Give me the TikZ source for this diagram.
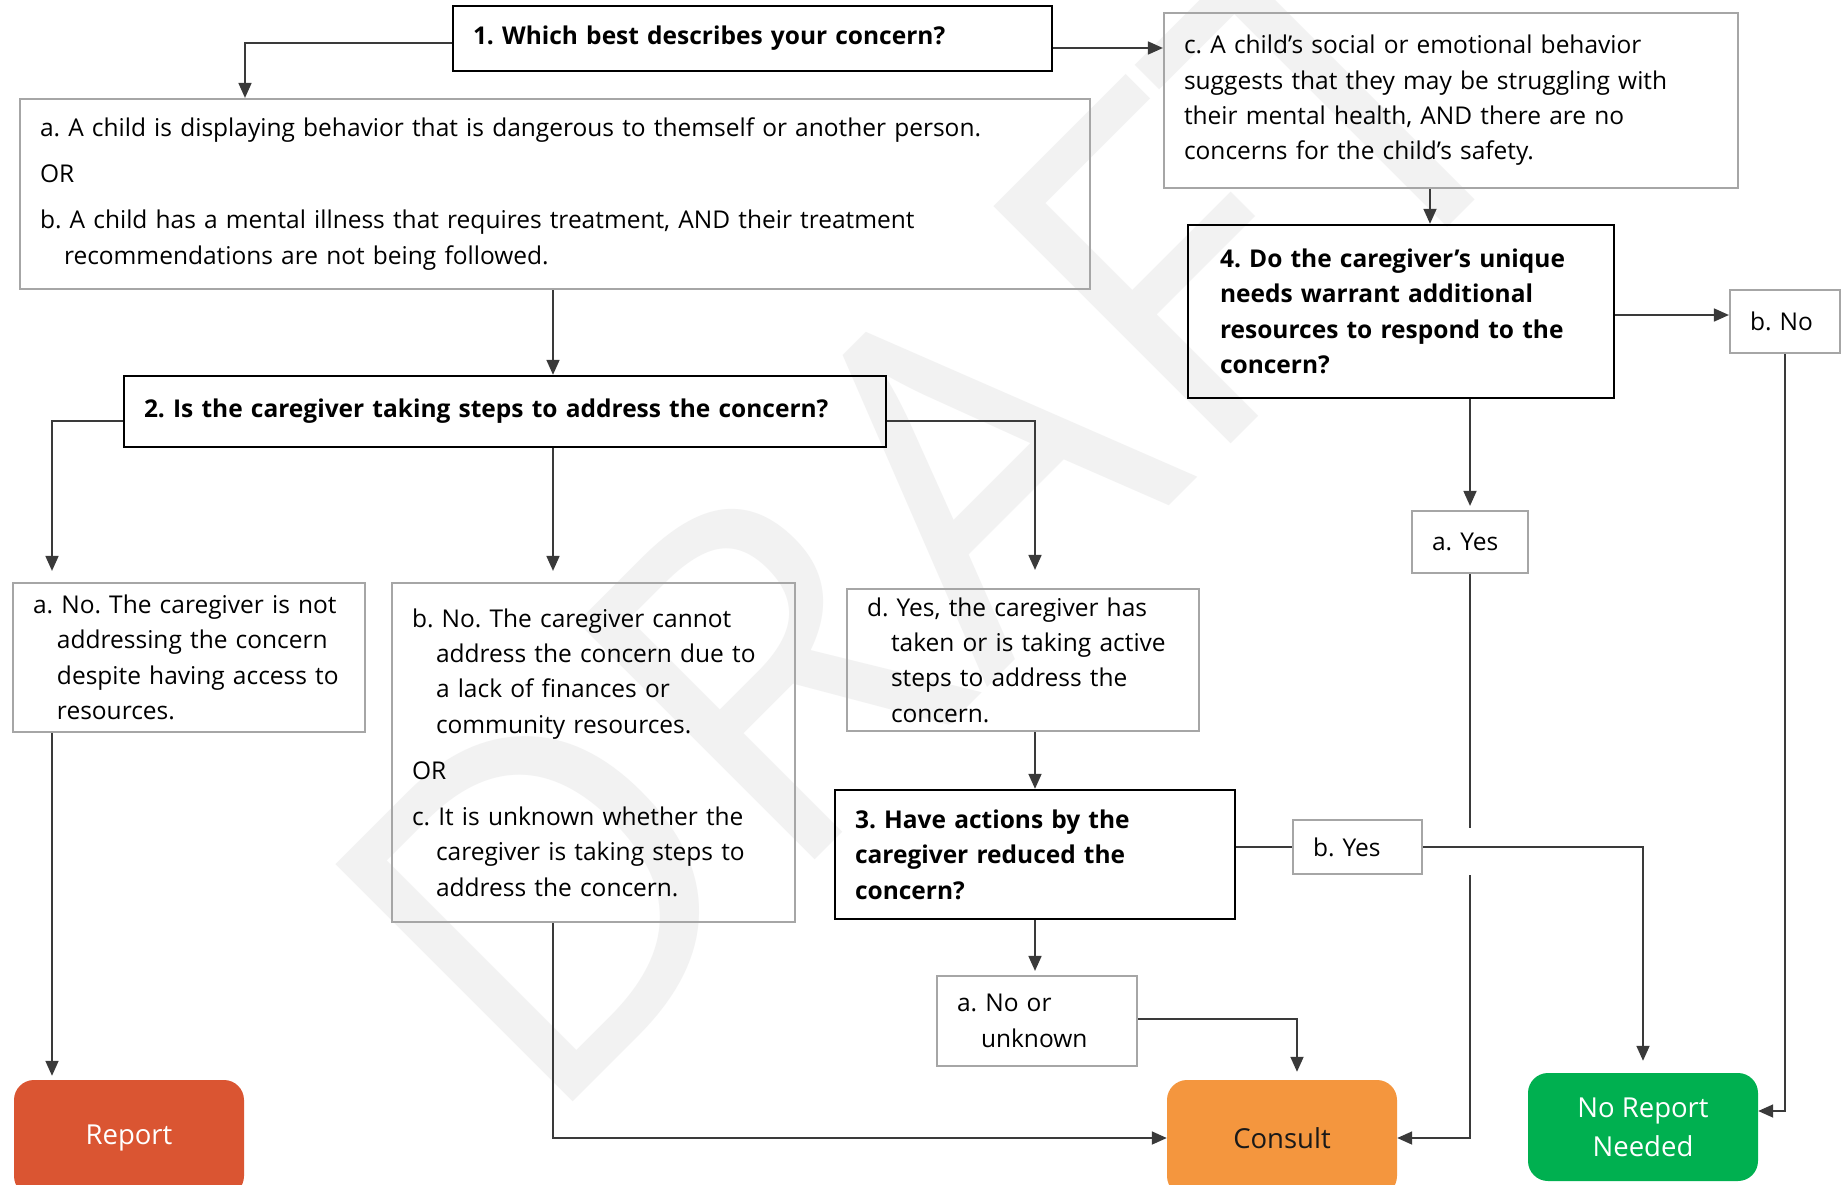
\documentclass[tikz,border=0pt]{standalone}
\usepackage{fontspec}
\setmainfont{Open Sans}
\usetikzlibrary{arrows.meta}

\definecolor{reportred}{HTML}{DA5532}
\definecolor{consultorange}{HTML}{F4963E}
\definecolor{okgreen}{HTML}{00B050}
\definecolor{wmgray}{HTML}{F2F2F2}
\definecolor{linegray}{HTML}{3A3A3A}
\definecolor{boxgray}{HTML}{A6A6A6}

% hanging indent for continuation lines of a lettered answer
\newcommand\hangpad{\hspace*{24pt}}
\frenchspacing

\begin{document}
\begin{tikzpicture}[x=1pt,y=-1pt,
  bodyfont/.style={font=\fontsize{24.5}{35.4}\selectfont},
  ansbox/.style={draw=boxgray, line width=2.2pt, rectangle, inner xsep=20pt,
    inner ysep=0pt, align=left, bodyfont},
  qbox/.style={draw=black, line width=2.4pt, rectangle, inner xsep=20pt,
    inner ysep=0pt, align=left, font=\bfseries\fontsize{24.5}{35.4}\selectfont},
  result/.style={rounded corners=20pt, inner sep=0pt, align=center,
    minimum width=230pt, font=\fontsize{27.5}{39}\selectfont},
  conn/.style={draw=linegray, line width=1.7pt},
  arr/.style={conn, -{Triangle[length=15pt,width=13pt]}},
]
\clip (0,0) rectangle (1847,1184);
\fill[white] (0,0) rectangle (1847,1184);

% watermark
\node[text=wmgray, font=\fontsize{470}{470}\selectfont, rotate=45,
  anchor=base west, inner sep=0pt] (wm) at (540,1135) {DRAFT};

% question 1 and its two branches
\node[qbox, minimum width=599pt, text width=559pt, minimum height=65pt] (q1)
  at (752.5,38.5) {1. Which best describes your concern?};
\node[ansbox, minimum width=1070pt, text width=1030pt, minimum height=190pt] (sa)
  at (555,194) {a. A child is displaying behavior that is dangerous to themself or another person.\\[10.6pt]
  OR\\[10.6pt]
  b. A child has a mental illness that requires treatment, AND their treatment\\
  \hangpad recommendations are not being followed.};
\node[ansbox, minimum width=574pt, text width=534pt, minimum height=175pt] (sc)
  at (1451,100.5) {c. A child’s social or emotional behavior\\
  suggests that they may be struggling with\\
  their mental health, AND there are no\\
  concerns for the child’s safety.};

% question 4
\node[qbox, inner xsep=32pt, minimum width=426pt, text width=362pt, minimum height=173pt] (q4)
  at (1401,311.5) {4. Do the caregiver’s unique\\
  needs warrant additional\\
  resources to respond to the\\
  concern?};
\node[ansbox, minimum width=110pt, text width=70pt, minimum height=63pt] (bno)
  at (1785,321.5) {b. No};
\node[ansbox, minimum width=116pt, text width=76pt, minimum height=62pt] (ayes)
  at (1470,542) {a. Yes};

% question 2
\node[qbox, minimum width=762pt, text width=722pt, minimum height=71pt] (q2)
  at (505,411.5) {2. Is the caregiver taking steps to address the concern?};
\node[ansbox, minimum width=352pt, text width=312pt, minimum height=149pt] (s2a)
  at (189,657.5) {a. No. The caregiver is not\\
  \hangpad addressing the concern\\
  \hangpad despite having access to\\
  \hangpad resources.};
\node[ansbox, minimum width=403pt, text width=363pt, minimum height=339pt] (s2b)
  at (593.5,752.5) {b. No. The caregiver cannot\\
  \hangpad address the concern due to\\
  \hangpad a lack of finances or\\
  \hangpad community resources.\\[10.6pt]
  OR\\[10.6pt]
  c. It is unknown whether the\\
  \hangpad caregiver is taking steps to\\
  \hangpad address the concern.};
\node[ansbox, minimum width=352pt, text width=312pt, minimum height=142pt] (s2d)
  at (1023,660) {d. Yes, the caregiver has\\
  \hangpad taken or is taking active\\
  \hangpad steps to address the\\
  \hangpad concern.};

% question 3
\node[qbox, minimum width=400pt, text width=360pt, minimum height=129pt] (q3)
  at (1035,854.5) {3. Have actions by the\\
  caregiver reduced the\\
  concern?};
\node[ansbox, minimum width=129pt, text width=89pt, minimum height=54pt] (byes)
  at (1357.5,847) {b. Yes};
\node[ansbox, minimum width=200pt, text width=160pt, minimum height=90pt] (a3)
  at (1037,1021) {a. No or\\
  \hangpad unknown};

% outcomes
\node[result, fill=reportred, text=white, minimum height=116pt] (report)
  at (129,1138) {Report};
\node[result, fill=consultorange, text=black!90, minimum height=116pt] (consult)
  at (1282,1138) {Consult};
\node[result, fill=okgreen, text=white, minimum height=108pt] (noreport)
  at (1643,1127) {No Report\\Needed};

% bend points for the connectors
\coordinate (k1) at (245,0);
\coordinate (k2) at (0,48);
\coordinate (k3) at (1430,0);
\coordinate (k4) at (0,315);
\coordinate (k5) at (0,1111);
\coordinate (k7a) at (0,828);
\coordinate (k7b) at (0,875);
\coordinate (k8) at (553,0);
\coordinate (k9) at (52,421);
\coordinate (k11) at (1035,421);
\coordinate (k16) at (1297,1019);

% connectors
\draw[arr] ([yshift=-4.5pt]q1.west) -| (sa.north -| k1);
\draw[arr] (q1.east |- k2) -- (sc.west |- k2);
\draw[arr] (sc.south -| k3) -- (q4.north -| k3);
\draw[arr] (q4.east |- k4) -- (bno.west |- k4);
\draw[arr] (bno.south) |- (noreport.east |- k5);
\draw[arr, shorten >=4pt] (ayes.north |- q4.south) -- (ayes.north);
\draw[conn] (ayes.south) -- (ayes.south |- k7a);
\draw[arr] (ayes.south |- k7b) |- (consult.east);
\draw[arr] (sa.south -| k8) -- (q2.north -| k8);
\draw[arr, shorten >=11pt] (q2.west |- k9) -| (s2a.north -| k9);
\draw[arr, shorten >=11pt] (q2.south -| k8) -- (s2b.north -| k8);
\draw[arr, shorten >=18pt] (q2.east |- k11) -| (s2d.north -| k11);
\draw[arr] (q3.north |- s2d.south) -- (q3.north);
\draw[arr, shorten >=4pt] (q3.south) -- (q3.south |- a3.north);
\draw[conn] (q3.east |- byes.west) -- (byes.west);
\draw[arr, shorten >=12pt] (byes.east) -| (noreport.north);
\draw[arr, shorten >=8pt] (a3.east |- k16) -| (consult.north -| k16);
\draw[arr, shorten >=4pt] (s2a.south -| k9) -- (report.north -| k9);
\draw[arr] (s2b.south -| k8) |- (consult.west);
\end{tikzpicture}
\end{document}
